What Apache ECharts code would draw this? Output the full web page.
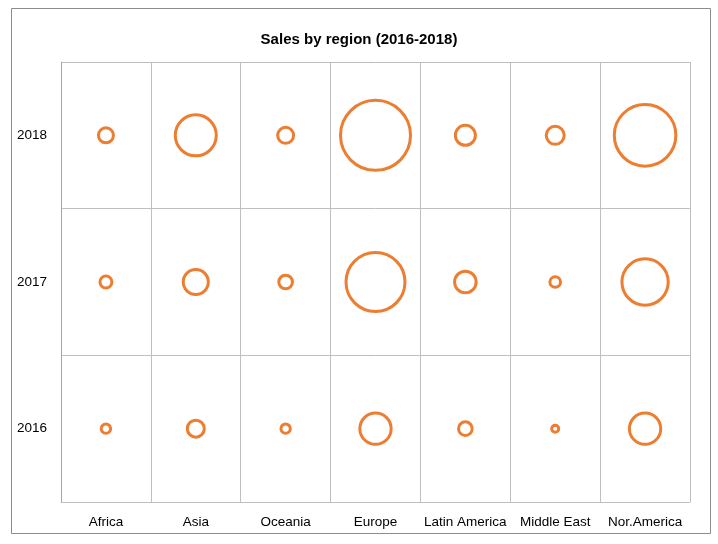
<!DOCTYPE html>
<html>
<head>
<meta charset="utf-8">
<script src="https://cdn.jsdelivr.net/npm/echarts@6/dist/echarts.min.js"></script>
<style>html,body{margin:0;padding:0;background:#fff}#c{width:718px;height:544px}</style>
</head>
<body>
<div id="c"></div>
<script>
const regions = ['Africa','Asia','Oceania','Europe','Latin America','Middle East','Nor.America'];
const years = ['2016','2017','2018'];
const sales2016 = [18, 59, 18, 200, 38, 10, 200];
const sales2017 = [29, 128, 38, 710, 95, 23, 437];
const sales2018 = [46, 343, 52, 1000, 82, 66, 774];

const byYear = [sales2016, sales2017, sales2018];
const data = [];
byYear.forEach((arr, yi) => arr.forEach((v, xi) => data.push([regions[xi], years[yi], v])));

const chart = echarts.init(document.getElementById('c'), null, {renderer: 'canvas'});
chart.setOption({
  animation: false,
  backgroundColor: '#fff',
  title: {
    text: 'Sales by region (2016-2018)',
    left: 'center',
    top: 27,
    textStyle: {fontFamily: 'Liberation Sans', fontSize: 15, fontWeight: 'bold', color: '#000'}
  },
  graphic: [{
    type: 'rect', silent: true,
    shape: {x: 11.5, y: 8.5, width: 699, height: 525},
    style: {fill: 'none', stroke: '#8c8c8c', lineWidth: 1}
  }],
  grid: {left: 61, top: 62, right: 28, bottom: 42},
  xAxis: {
    type: 'category', data: regions, boundaryGap: true,
    axisLine: {show: true, lineStyle: {color: '#bfbfbf'}},
    axisTick: {show: false},
    splitLine: {show: true, lineStyle: {color: '#bfbfbf'}},
    axisLabel: {margin: 13, fontFamily: 'Liberation Sans', fontSize: 13.5, color: '#000', interval: 0}
  },
  yAxis: {
    type: 'category', data: years, boundaryGap: true,
    axisLine: {show: true, lineStyle: {color: '#a6a6a6'}},
    axisTick: {show: false},
    splitLine: {show: true, lineStyle: {color: '#bfbfbf'}},
    axisLabel: {margin: 14, fontFamily: 'Liberation Sans', fontSize: 13.5, color: '#000'}
  },
  series: [{
    type: 'scatter',
    silent: true,
    data: data,
    symbol: 'circle',
    symbolSize: d => 70 * Math.sqrt(d[2] / 1000),
    itemStyle: {color: 'rgba(0,0,0,0)', borderColor: '#ED7D31', borderWidth: 3, opacity: 1}
  }]
});
</script>
</body>
</html>
